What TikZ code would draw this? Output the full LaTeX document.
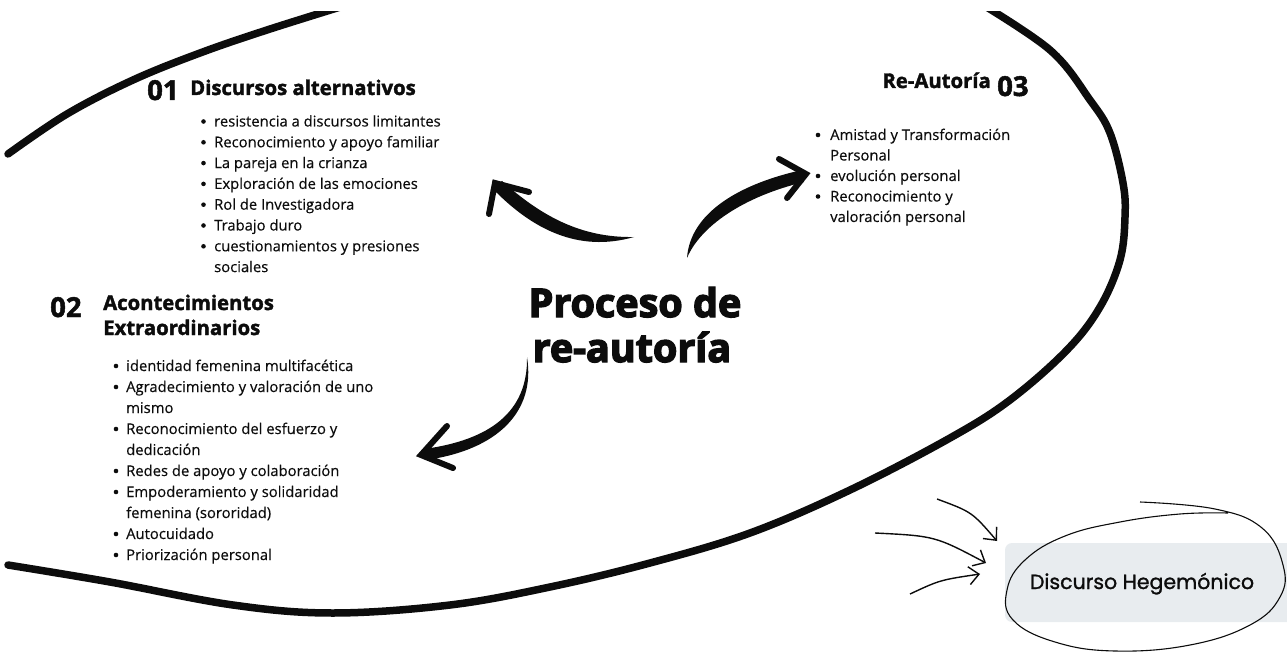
\documentclass[tikz,border=0pt]{standalone}
\usepackage{fontspec}
\usepackage{xcolor}
\usepackage{tikz}
\usetikzlibrary{arrows.meta}
\setmainfont{Open Sans}[UprightFeatures={FakeBold=0.35},BoldFeatures={FakeBold=1.8}]
\newfontfamily\titlefont{Open Sans}[BoldFeatures={FakeBold=3.6}]
\newfontfamily\hegfont{Poppins}[FakeBold=1.2]
\definecolor{ink}{RGB}{12,12,12}
\definecolor{hegfill}{RGB}{232,236,239}

\begin{document}
\begin{tikzpicture}[x=1pt,y=-1pt,
  bulletline/.style={anchor=base west,inner sep=0pt,font=\fontsize{14.8}{20}\selectfont,text=ink},
  numlabel/.style={anchor=base west,inner sep=0pt,font=\fontsize{27.5}{27}\selectfont\bfseries,text=ink},
  headlabel/.style={anchor=base west,inner sep=0pt,font=\fontsize{20.3}{22}\selectfont\bfseries,text=ink},
  brushline/.style={draw=ink,line width=7.5pt,line cap=round},
  brushhead/.style={draw=ink,line width=6pt,line cap=round,line join=miter},
  thinarrow/.style={draw=ink,line width=1.4pt,-{Straight Barb[length=10pt,width=18pt]}}]
\useasboundingbox (0,0) rectangle (1287,652);
\begin{scope}
\clip (0,12) rectangle (1287,652);
\draw[brushline] plot[smooth,tension=0.6] coordinates {(8,154) (67,114) (133,80) (200,53) (267,30) (350,4)};
\draw[brushline] plot[smooth,tension=0.6] coordinates {(975,0) (1050,50) (1090,100) (1110,133) (1123,183) (1125,217) (1120,260) (1100,307) (1067,350) (1010,400) (950,438) (850,490) (750,533) (650,563) (550,587) (450,605) (333,613) (233,605) (110,582) (8,565)};
\end{scope}
\fill[hegfill,rounded corners=7pt] (1005,543) rectangle (1300,622);
\node[anchor=base,inner sep=0pt,font=\hegfont\fontsize{20.5}{22}\selectfont,text=ink] (heg) at (1142,589) {Discurso Hegemónico};
\draw[ink,line width=1.1pt] plot[smooth,tension=0.7] coordinates {(1140,502) (1215,509) (1262,528) (1283,565) (1280,597) (1250,625) (1190,645) (1115,651) (1055,642) (1013,620) (1007,590) (1025,560) (1065,536) (1120,522) (1180,514) (1228,513)};
\coordinate (a1) at (937,499);
\coordinate (a2) at (997,541);
\coordinate (b1) at (875,533);
\coordinate (b2) at (986,563);
\coordinate (c1) at (910,594);
\coordinate (c2) at (980,574);
\draw[thinarrow] (a1) .. controls (972,512) .. (a2);
\draw[thinarrow] (b1) .. controls (935,536) .. (b2);
\draw[thinarrow] (c1) .. controls (940,580) .. (c2);
\node[anchor=base,inner sep=0pt,font=\titlefont\bfseries\fontsize{39.5}{45}\selectfont,text=ink] (proc) at (635,317) {Proceso de};
\node[anchor=base,inner sep=0pt,font=\titlefont\bfseries\fontsize{39.5}{45}\selectfont,text=ink] (reau) at (632,362) {re-autoría};
\coordinate (s1) at (634,237);
\coordinate (t1) at (495,183);
\fill[ink] (s1) .. controls (578,253) and (532,229) .. (493,189) -- (502,181) .. controls (540,215) and (580,238) .. (s1) -- cycle;
\draw[brushhead] (489,214) -- (t1) -- (529,192);
\coordinate (s2) at (687,258);
\coordinate (t2) at (806,174);
\fill[ink] (s2) .. controls (690,215) and (735,185) .. (802,170) -- (804,182) .. controls (742,197) and (700,227) .. (s2) -- cycle;
\draw[brushhead] (779,159) -- (t2) -- (787,198);
\coordinate (s3) at (527,357);
\coordinate (t3) at (421,455);
\fill[ink] (s3) .. controls (528,412) and (490,440) .. (424,449) -- (426,460) .. controls (497,450) and (536,412) .. (s3) -- cycle;
\draw[brushhead] (447,426) -- (t3) -- (453,468);
\node[numlabel] (n1) at (147,100) {01};
\node[headlabel] (h1) at (190,95) {Discursos alternativos};
\foreach \j/\ytext in {0/resistencia a discursos limitantes,1/Reconocimiento y apoyo familiar,2/La pareja en la crianza,3/Exploración de las emociones,4/Rol de Investigadora,5/Trabajo duro,6/cuestionamientos y presiones,7/sociales}
{
    \node[bulletline] (da\j) at (214,126.5+20.8*\j) {\ytext};
}
\foreach \j in {0,...,6}
{
    \fill[ink] (203.5,121.5+20.8*\j) circle (2.3);
}
\node[numlabel] (n2) at (50,317) {02};
\node[headlabel] (h2) at (103,310) {Acontecimientos};
\node[headlabel] (h2b) at (103,335) {Extraordinarios};
\foreach \j/\ytext in {0/identidad femenina multifacética,1/Agradecimiento y valoración de uno,2/mismo,3/Reconocimiento del esfuerzo y,4/dedicación,5/Redes de apoyo y colaboración,6/Empoderamiento y solidaridad,7/femenina (sororidad),8/Autocuidado,9/Priorización personal}
{
    \node[bulletline] (ae\j) at (126,371+21*\j) {\ytext};
}
\foreach \j in {0,1,3,5,6,8,9}
{
    \fill[ink] (116,366+21*\j) circle (2.3);
}
\node[headlabel,anchor=base east] (h3) at (991,88) {Re-Autoría};
\node[numlabel] (n3) at (997,96) {03};
\foreach \j/\ytext in {0/Amistad y Transformación,1/Personal,2/evolución personal,3/Reconocimiento y,4/valoración personal}
{
    \node[bulletline] (ra\j) at (830,140+20.5*\j) {\ytext};
}
\foreach \j in {0,2,3}
{
    \fill[ink] (818,135+20.5*\j) circle (2.3);
}
\end{tikzpicture}
\end{document}
